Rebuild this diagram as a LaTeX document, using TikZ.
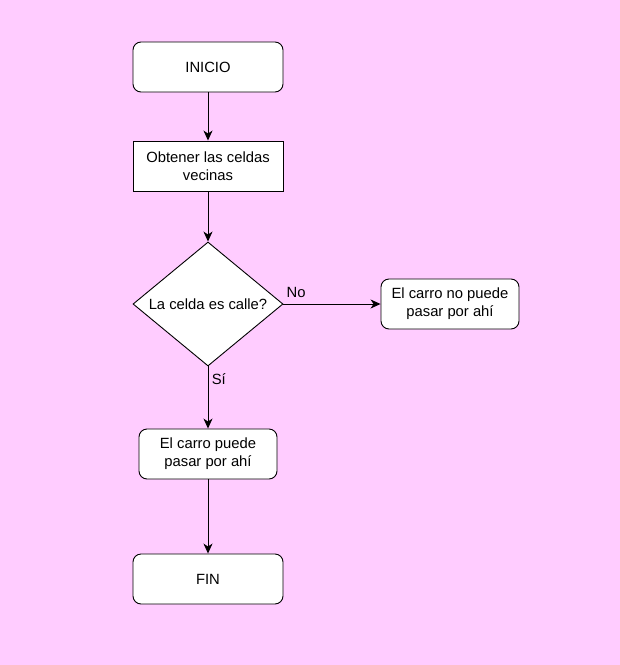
\documentclass[tikz,border=0pt]{standalone}
\usepackage{fontspec}
\setmainfont{Liberation Sans}
\usepackage{tikz}
\usetikzlibrary{shapes.geometric,arrows.meta}
\usepackage{xcolor}
\definecolor{fondo}{HTML}{FFCCFF}
\newcommand{\txtsize}{\fontsize{14.8}{18}\selectfont}
\tikzset{
  caja/.style={draw,fill=white,line width=0.9pt,minimum width=#1,minimum height=50pt,inner sep=0pt,align=center,font=\txtsize},
  caja/.default=150pt,
  term/.style={caja=#1,rounded corners=8pt},
  term/.default=150pt,
  decis/.style={draw,fill=white,line width=0.9pt,diamond,minimum width=150pt,minimum height=124pt,inner sep=0pt,aspect=1.21,font=\txtsize},
  flecha/.style={line width=1pt,-{Stealth[length=10pt,width=9pt,inset=3pt]}},
  etiq/.style={font=\txtsize}
}
\begin{document}
\begin{tikzpicture}[x=1pt,y=-1pt]

    \fill[fondo] (0,0) rectangle (620,665);
    \useasboundingbox (0,0) rectangle (620,665);

    \node[term] (inicio) at (208,67) {INICIO};
    \node[caja] (vecinas) at (208,166) {Obtener las celdas\\vecinas};
    \node[decis] (calle) at (208,304) {};
    \node[etiq] (pregunta) at (calle) {La celda es calle?};
    \node[term=138pt] (nopuede) at (450,304) {El carro no puede\\pasar por ah\'i};
    \node[term=138pt] (puede) at (208,454) {El carro puede\\pasar por ah\'i};
    \node[term] (fin) at (208,579) {FIN};

    \draw[flecha] (inicio) -- (vecinas);
    \draw[flecha] (vecinas) -- (calle);
    \draw[flecha] (calle.east) -- (nopuede) node[etiq,pos=0.13,above,yshift=3pt] (no) {No};
    \draw[flecha] (calle.south) -- (puede) node[etiq,pos=0.2,right] (si) {S\'i};
    \draw[flecha] (puede) -- (fin);

\end{tikzpicture}
\end{document}
